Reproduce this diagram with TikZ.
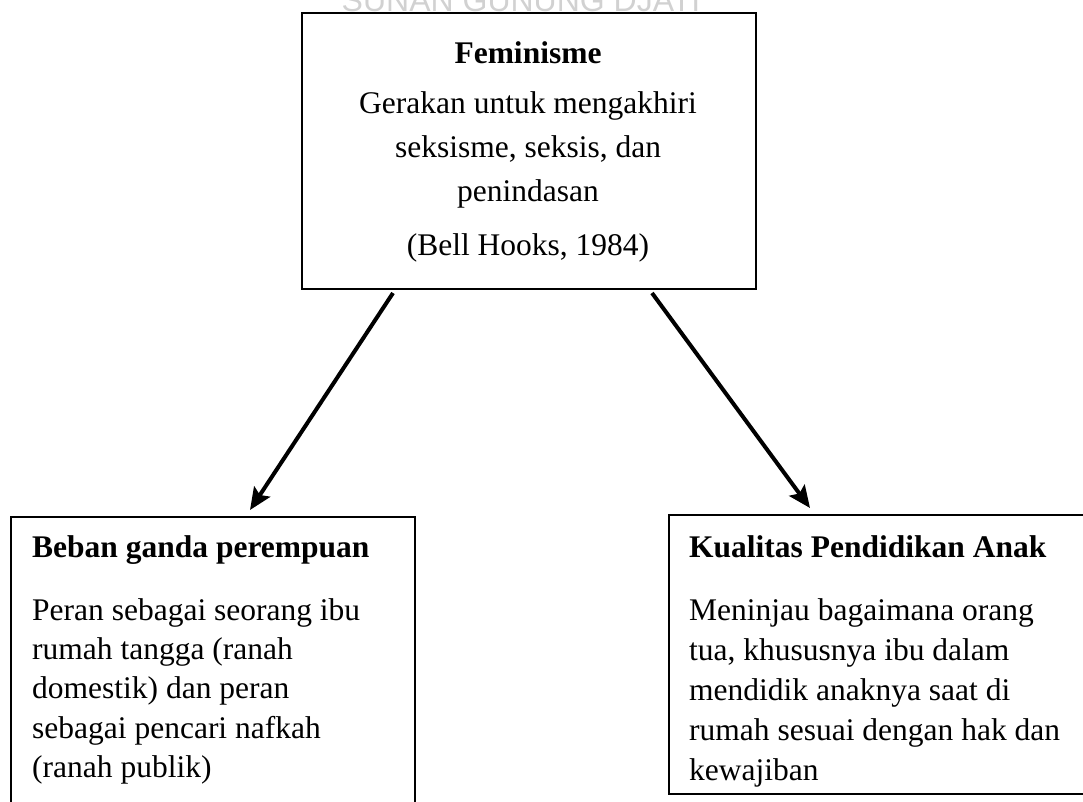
\documentclass[tikz,border=0pt]{standalone}
\usepackage{fontspec}
\setmainfont{Liberation Serif}
\newfontfamily\wmfont{Liberation Sans}
\usetikzlibrary{arrows.meta,calc}
\tikzset{
  box/.style={draw=black, line width=2pt, inner sep=0pt, anchor=north west, fill=none},
  head/.style={font=\fontsize{31.5}{38}\selectfont\bfseries, inner sep=0pt},
  body/.style={font=\fontsize{31.5}{38}\selectfont, inner sep=0pt},
  link/.style={line width=4pt, -{Stealth[length=22pt,width=19pt,inset=4pt]}},
  wmark/.style={font=\wmfont\fontsize{32}{32}\selectfont, text=black!18, inner sep=0pt, anchor=base}
}
\begin{document}
\begin{tikzpicture}[x=1pt,y=-1pt]
\useasboundingbox (0,0) rectangle (1083,801);
\begin{scope}
\clip (0,0) rectangle (1083,801);
% watermark
\node[wmark] (wm) at (521,11) {SUNAN GUNUNG DJATI};
% boxes
\node[box, minimum width=454pt, minimum height=276pt] (top) at (301,12) {};
\node[box, minimum width=404pt, minimum height=320pt] (lb) at (10,516) {};
\node[box, minimum width=430pt, minimum height=279pt] (rb) at (668,514) {};
\end{scope}
% top box text
\node[head, anchor=base] (t0) at (528,63) {Feminisme};
\node[body, anchor=base] (t1) at (528,113) {Gerakan untuk mengakhiri};
\node[body, anchor=base] (t2) at (528,157) {seksisme, seksis, dan};
\node[body, anchor=base] (t3) at (528,201) {penindasan};
\node[body, anchor=base] (t4) at (528,255) {(Bell Hooks, 1984)};
% left box text
\node[head, anchor=base west] (l0) at (32,557) {Beban ganda perempuan};
\node[body, anchor=base west] (l1) at (32,620) {Peran sebagai seorang ibu};
\node[body, anchor=base west] (l2) at (32,659) {rumah tangga (ranah};
\node[body, anchor=base west] (l3) at (32,698) {domestik) dan peran};
\node[body, anchor=base west] (l4) at (32,738) {sebagai pencari nafkah};
\node[body, anchor=base west] (l5) at (32,777) {(ranah publik)};
% right box text
\node[head, anchor=base west] (r0) at (689,557) {Kualitas Pendidikan Anak};
\node[body, anchor=base west] (r1) at (689,620) {Meninjau bagaimana orang};
\node[body, anchor=base west] (r2) at (689,660) {tua, khususnya ibu dalam};
\node[body, anchor=base west] (r3) at (689,700) {mendidik anaknya saat di};
\node[body, anchor=base west] (r4) at (689,740) {rumah sesuai dengan hak dan};
\node[body, anchor=base west] (r5) at (689,780) {kewajiban};
% connectors
\coordinate (a1s) at ($(top.south west)+(92,3)$);
\coordinate (a1e) at ($(lb.north west)+(240,-6)$);
\coordinate (a2s) at ($(top.south west)+(351,3)$);
\coordinate (a2e) at ($(rb.north west)+(142,-6)$);
\draw[link] (a1s) -- (a1e);
\draw[link] (a2s) -- (a2e);
\end{tikzpicture}
\end{document}
